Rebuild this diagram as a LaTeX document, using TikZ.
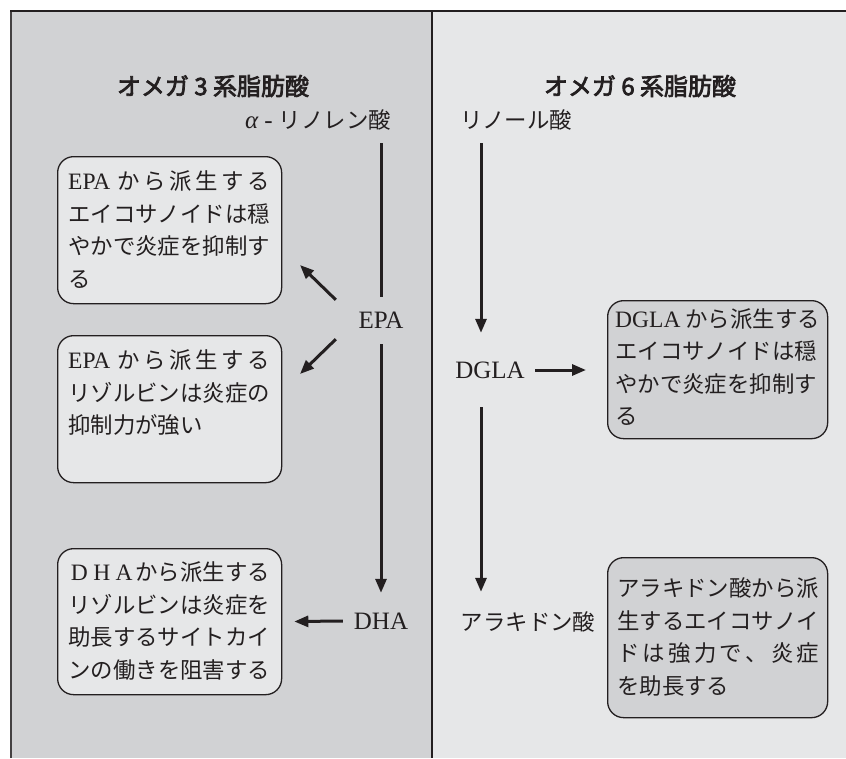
\documentclass[tikz,border=0pt]{standalone}
\usepackage{fontspec}
\setmainfont{Liberation Serif}
\newfontfamily\jp{Noto Sans CJK JP}
\newfontfamily\jpt{Noto Sans CJK JP}[FakeBold=3]
\usetikzlibrary{arrows.meta}
\definecolor{lgray}{HTML}{D1D2D4}
\definecolor{pale}{HTML}{E6E7E8}
\definecolor{ink}{HTML}{231F20}
% spread a line of single tokens evenly over the box width
\def\flA#1{#1\flB}
\def\flB#1{\ifx\relax#1\else\hfil#1\expandafter\flB\fi}
\newcommand\fullline[1]{\makebox[202pt][s]{\flA#1\relax}}
\newcommand\cell[1]{\makebox[22.4pt]{#1}}
\newcommand\latin[1]{{\rmfamily\fontsize{23.5}{32.6}\selectfont #1}}
\newcommand\EPA{\latin{EPA}\hspace{4pt}}
\newcommand\DGLA{\latin{DGLA}\hspace{5pt}}
\newcommand\DHA{\latin{\cell{D}\cell{H}\cell{A}}}
\begin{document}
\begin{tikzpicture}[x=1pt,y=-1pt,
  box/.style={draw=ink, line width=1.3pt, rounded corners=16pt, anchor=north west, inner sep=0pt},
  lbox/.style={box, fill=pale},
  dbox/.style={box, fill=lgray},
  txt/.style={anchor=base west, inner sep=0pt, text=ink, font=\jp\fontsize{22.4}{32.6}\selectfont},
  lab/.style={inner sep=0pt, text=ink, font=\fontsize{25}{28}\selectfont},
  title/.style={inner sep=0pt, text=ink, font=\jpt\fontsize{24}{28}\selectfont},
  ln/.style={line width=3pt, draw=ink},
  arr/.style={ln, -{Triangle[length=14pt,width=11pt]}}]
\useasboundingbox (0,0) rectangle (846,758);
% panels
\fill[lgray] (11,11) rectangle (432,758);
\fill[pale] (432,11) rectangle (846,758);
\draw[ink!85, line width=2pt] (11,758) -- (11,11);
\draw[ink, line width=1.6pt] (10,11) -- (846,11);
\draw[ink, line width=1.3pt] (432,11) -- (432,758);
% titles
\node[title] (h3) at (213,86) {オメガ 3 系脂肪酸};
\node[title] (h6) at (640,86) {オメガ 6 系脂肪酸};
% labels
\node[lab] (alin) at (318,120) {{\itshape α} - {\jp\fontsize{22.4}{26}\selectfont リノレン酸}};
\node[lab] (lino) at (516,120) {\jp\fontsize{22.4}{26}\selectfont リノール酸};
\node[lab, minimum width=90pt, minimum height=47pt] (epa) at (381,320.5) {EPA};
\node[lab, minimum width=76pt, minimum height=56pt] (dha) at (381,621) {DHA};
\node[lab, minimum width=90pt, minimum height=74pt] (dgla) at (490,370) {DGLA};
\node[lab, minimum height=60pt] (ara) at (528,622) {\jp\fontsize{22.4}{26}\selectfont アラキドン酸};
\coordinate (l3) at (381,143);
\coordinate (l6) at (481,143);
\coordinate (e1) at (300,265);
\coordinate (e2) at (300,374);
% boxes
\node[lbox, minimum width=224pt, minimum height=147pt] (b1) at (57,156) {};
\node[lbox, minimum width=224pt, minimum height=147pt] (b2) at (57,335) {};
\node[lbox, minimum width=224pt, minimum height=146pt] (b3) at (57,548) {};
\node[dbox, minimum width=220pt, minimum height=138pt] (b4) at (607,300) {};
\node[dbox, minimum width=220pt, minimum height=160pt] (b5) at (607,557) {};
% box texts
\node[txt] (t1) at ([xshift=11pt,yshift=-33.5pt]b1.north west) {\parbox[t]{206pt}{%
\fullline{\EPA から派生する}\\
\fullline{エイコサノイドは穏}\\
\fullline{やかで炎症を抑制す}\\
る}};
\node[txt] (t2) at ([xshift=11pt,yshift=-33.5pt]b2.north west) {\parbox[t]{206pt}{%
\fullline{\EPA から派生する}\\
\fullline{リゾルビンは炎症の}\\
抑制力が強い}};
\node[txt] (t3) at ([xshift=11pt,yshift=-32.5pt]b3.north west) {\parbox[t]{206pt}{%
\fullline{\DHA から派生する}\\
\fullline{リゾルビンは炎症を}\\
\fullline{助長するサイトカイ}\\
\makebox[202pt]{ンの働きを阻害する}}};
\node[txt] (t4) at ([xshift=8pt,yshift=-27pt]b4.north west) {\parbox[t]{206pt}{%
\fullline{\DGLA から派生する}\\
\fullline{エイコサノイドは穏}\\
\fullline{やかで炎症を抑制す}\\
る}};
\node[txt] (t5) at ([xshift=10pt,yshift=-39.5pt]b5.north west) {\parbox[t]{206pt}{%
\fullline{アラキドン酸から派}\\
\fullline{生するエイコサノイ}\\
\fullline{ドは強力で、炎症}\\
を助長する}};
% connectors
\draw[ln] (l3) -- (l3 |- epa.north);
\draw[arr] (epa.south) -- (dha.north);
\draw[arr] ([yshift=-3pt]epa.north west) -- (e1);
\draw[arr] ([yshift=5pt]epa.south west) -- (e2);
\draw[arr, shorten >=12pt] (dha.west) -- (b3.east);
\draw[arr] (l6) -- (l6 |- dgla.north);
\draw[arr] (l6 |- dgla.south) -- (l6 |- ara.north);
\draw[arr, shorten >=21pt] (dgla.east) -- (dgla.east -| b4.west);
\end{tikzpicture}
\end{document}
